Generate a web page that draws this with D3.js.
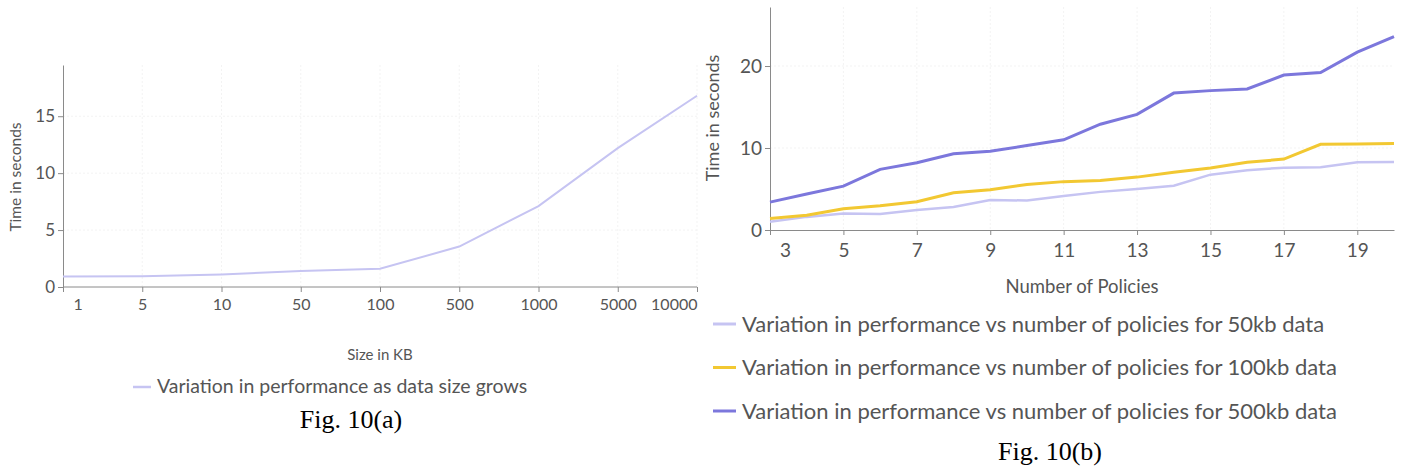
<!DOCTYPE html>
<html>
<head>
<meta charset="utf-8">
<script src="https://cdn.jsdelivr.net/npm/d3@7"></script>
<style>
  body { margin:0; background:#fff; }
  svg text { font-family: Lato, "Open Sans", sans-serif; fill:#555; }
  .cap { font-family: "Liberation Serif", "DejaVu Serif", serif; fill:#000; }
  .axis path, .axis line { stroke:#8a8a8a; }
  .grid line { stroke:#f3f3f3; stroke-dasharray:2,2; }
</style>
</head>
<body>
<svg id="chart" width="1407" height="470"></svg>
<script>
// Fig 10(a) data
var sizes = ["1","5","10","50","100","500","1000","5000","10000"];
var sizeTimes = [0.93, 0.95, 1.1, 1.4, 1.6, 3.55, 7.1, 12.2, 16.8];

// Fig 10(b) data
var policies = [3,4,5,6,7,8,9,10,11,12,13,14,15,16,17,18,19,20];
var t50kb  = [1.0,1.6,2.0,1.95,2.45,2.8,3.65,3.6,4.15,4.65,5.0,5.4,6.75,7.3,7.6,7.65,8.25,8.3];
var t100kb = [1.4,1.8,2.6,2.95,3.45,4.55,4.9,5.55,5.9,6.05,6.45,7.05,7.55,8.25,8.65,10.45,10.5,10.55];
var t500kb = [3.4,4.4,5.35,7.4,8.2,9.3,9.6,10.3,11.0,12.9,14.1,16.7,17.0,17.2,18.9,19.2,21.7,23.6];
var policyTicks = [3,5,7,9,11,13,15,17,19];

var legendA = "Variation in performance as data size grows";
var legendB = [
  {name:"Variation in performance vs number of policies for 50kb data", values:t50kb, color:"#c6c4f2", w:2.5},
  {name:"Variation in performance vs number of policies for 100kb data", values:t100kb, color:"#f2c832", w:3},
  {name:"Variation in performance vs number of policies for 500kb data", values:t500kb, color:"#7c77dc", w:3}
];

var svg = d3.select("#chart");

// ---------- left chart ----------
var xa = d3.scalePoint().domain(sizes).range([63, 697]);
var ya = d3.scaleLinear().domain([0, 19.5]).range([287, 65]);

var ga = svg.append("g");
ga.append("g").attr("class","grid")
  .selectAll("line").data([5,10,15]).enter().append("line")
  .attr("x1",63).attr("x2",697).attr("y1",ya).attr("y2",ya);
ga.append("g").attr("class","grid")
  .selectAll("line").data(sizes.slice(1)).enter().append("line")
  .attr("x1",xa).attr("x2",xa).attr("y1",65).attr("y2",287);

var axA = ga.append("g").attr("class","axis")
  .attr("transform","translate(0,287)")
  .call(d3.axisBottom(xa).tickSize(5).tickSizeOuter(0));
axA.select(".domain").attr("d","M63,0H697");
axA.selectAll("text").style("font-size","16px").attr("dy","0.95em")
  .attr("text-anchor",function(d,i){ return i==0 ? "start" : (i==sizes.length-1 ? "end" : "middle"); })
  .attr("dx",function(d,i){ return i==0 ? "10" : 0; });

var ayA = ga.append("g").attr("class","axis")
  .attr("transform","translate(63,0)")
  .call(d3.axisLeft(ya).tickValues([0,5,10,15]).tickSize(5).tickSizeOuter(0));
ayA.selectAll("text").style("font-size","17px");

ga.append("path").datum(sizeTimes)
  .attr("fill","none").attr("stroke","#c6c4f2").attr("stroke-width",2)
  .attr("d", d3.line().x(function(d,i){ return xa(sizes[i]); }).y(function(d){ return ya(d); }));

ga.append("text").attr("transform","translate(21,177) rotate(-90)")
  .attr("text-anchor","middle").style("font-size","15.5px").text("Time in seconds");
ga.append("text").attr("x",380).attr("y",360)
  .attr("text-anchor","middle").style("font-size","15px").text("Size in KB");

ga.append("line").attr("x1",133).attr("x2",151).attr("y1",387).attr("y2",387)
  .attr("stroke","#c6c4f2").attr("stroke-width",2.5);
ga.append("text").attr("x",157).attr("y",393).style("font-size","19.5px").text(legendA);
ga.append("text").attr("class","cap").attr("x",351).attr("y",428)
  .attr("text-anchor","middle").style("font-size","26px").text("Fig. 10(a)");

// ---------- right chart ----------
var xb = d3.scaleLinear().domain([3,20]).range([770,1394]);
var yb = d3.scaleLinear().domain([0,27.2]).range([230,7]);

var gb = svg.append("g");
gb.append("g").attr("class","grid")
  .selectAll("line").data([10,20]).enter().append("line")
  .attr("x1",770).attr("x2",1394).attr("y1",yb).attr("y2",yb);
gb.append("g").attr("class","grid")
  .selectAll("line").data(policyTicks.slice(1)).enter().append("line")
  .attr("x1",xb).attr("x2",xb).attr("y1",7).attr("y2",230);

var axB = gb.append("g").attr("class","axis")
  .attr("transform","translate(0,230)")
  .call(d3.axisBottom(xb).tickValues(policyTicks).tickSize(5).tickSizeOuter(0));
axB.selectAll("text").style("font-size","19px").attr("dy","1em")
  .attr("dx",function(d){ return d==3 ? "15" : 0; });

var ayB = gb.append("g").attr("class","axis")
  .attr("transform","translate(770,0)")
  .call(d3.axisLeft(yb).tickValues([0,10,20]).tickSize(5).tickSizeOuter(0));
ayB.selectAll("text").style("font-size","19px");

var lineB = d3.line().x(function(d,i){ return xb(policies[i]); }).y(function(d){ return yb(d); });
gb.selectAll(".series").data(legendB).enter().append("path")
  .attr("class","series").attr("fill","none")
  .attr("stroke",function(d){ return d.color; })
  .attr("stroke-width",function(d){ return d.w; })
  .attr("d",function(d){ return lineB(d.values); });

gb.append("text").attr("transform","translate(719,118) rotate(-90)")
  .attr("text-anchor","middle").style("font-size","18px").text("Time in seconds");
gb.append("text").attr("x",1082).attr("y",293)
  .attr("text-anchor","middle").style("font-size","18.5px").text("Number of Policies");

var lg = gb.selectAll(".leg").data(legendB).enter().append("g")
  .attr("class","leg")
  .attr("transform",function(d,i){ return "translate(0," + (324 + i*43.5) + ")"; });
lg.append("line").attr("x1",713).attr("x2",736).attr("y1",0).attr("y2",0)
  .attr("stroke",function(d){ return d.color; }).attr("stroke-width",3);
lg.append("text").attr("x",742).attr("y",7.5).style("font-size","22px")
  .text(function(d){ return d.name; });

gb.append("text").attr("class","cap").attr("x",1050).attr("y",460)
  .attr("text-anchor","middle").style("font-size","26px").text("Fig. 10(b)");
</script>
</body>
</html>
